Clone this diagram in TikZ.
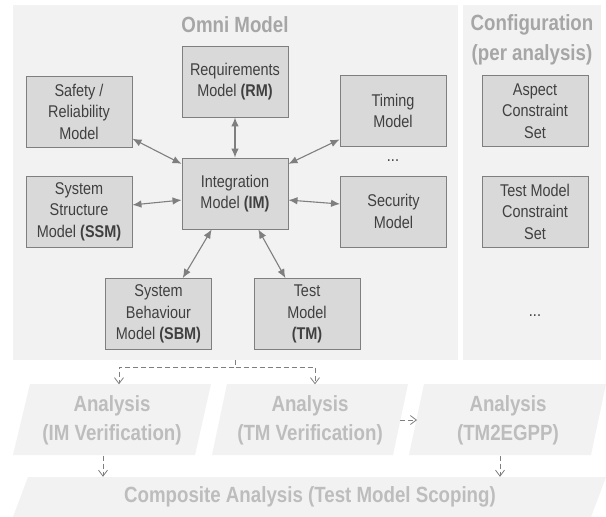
\documentclass[tikz,border=0pt]{standalone}
\usepackage{fontspec}
\setmainfont{Liberation Sans}[FakeStretch=0.85]
\usetikzlibrary{arrows.meta}
\definecolor{panel}{HTML}{F2F2F2}
\definecolor{boxfill}{HTML}{D9D9D9}
\definecolor{edge}{HTML}{7F7F7F}
\definecolor{ink}{HTML}{404040}
\definecolor{title}{HTML}{A6A6A6}
\definecolor{faded}{HTML}{BDBDBD}
\tikzset{
  panelbox/.style={fill=panel, draw=none, inner sep=0pt},
  model/.style={draw=edge, fill=boxfill, line width=0.9pt, minimum width=106pt, minimum height=71pt, inner sep=0pt, align=center, text=ink, font=\fontsize{17}{21.5}\selectfont},
  heading/.style={text=title, font=\bfseries\fontsize{22}{30}\selectfont, align=center},
  stage/.style={text=faded, font=\bfseries\fontsize{22}{29}\selectfont, align=center, minimum height=71pt, inner sep=0pt},
  slab/.style={fill=panel},
  link/.style={draw=edge, line width=1.1pt, {Latex[length=9pt,width=7.5pt]}-{Latex[length=9pt,width=7.5pt]}},
  flow/.style={draw=edge, line width=0.8pt, dash pattern=on 5pt off 3pt, -{Straight Barb[length=6pt,width=9pt]}},
}

\begin{document}
\begin{tikzpicture}[x=1pt,y=-1pt]
  \useasboundingbox (0,0) rectangle (606,517);
  \fill[white] (0,0) rectangle (606,517);

  % panels
  \node[panelbox, minimum width=445pt, minimum height=355pt] (omni) at (235.5,182.5) {};
  \node[panelbox, minimum width=138pt, minimum height=355pt] (config) at (532,182.5) {};
  \node[heading] (omnititle) at (235,25) {Omni Model};
  \node[heading] (configtitle) at (532,40) {Configuration\\(per analysis)};

  % models
  \node[model] (RM) at (235,81.5) {Requirements\\Model \textbf{(RM)}};
  \node[model] (SRM) at (79,111.5) {Safety /\\Reliability\\Model};
  \node[model] (IM) at (235,193.5) {Integration\\Model \textbf{(IM)}};
  \node[model] (SSM) at (79,211.5) {System\\Structure\\Model \textbf{(SSM)}};
  \node[model] (TiM) at (393,111) {Timing\\Model};
  \node[text=ink, font=\fontsize{17}{21.5}\selectfont] (moredots) at (393,161) {...};
  \node[model] (SecM) at (393.5,211.5) {Security\\Model};
  \node[model] (SBM) at (158.5,314) {System\\Behaviour\\Model \textbf{(SBM)}};
  \node[model] (TM) at (307,314) {Test\\Model\\\textbf{(TM)}};

  % configuration
  \node[model] (ACS) at (535,111) {Aspect\\Constraint\\Set};
  \node[model] (TMCS) at (535,211.5) {Test Model\\Constraint\\Set};
  \node[text=ink, font=\fontsize{17}{21.5}\selectfont] (cfgdots) at (535,316) {...};

  \draw[link] (RM.south) -- (IM.north);
  \draw[link] (SRM.-27) -- (IM.151);
  \draw[link] (SSM.7) -- (IM.-173);
  \draw[link] (TiM.-152) -- (IM.29);
  \draw[link] (SecM.172) -- (IM.-7);
  \draw[link] (SBM.56) -- (IM.-123);
  \draw[link] (TM.121) -- (IM.-57);

  % analyses
  \fill[slab] (13,455) -- (30,384) -- (211,384) -- (195,455) -- cycle;
  \fill[slab] (212,455) -- (227,384) -- (408,384) -- (393,455) -- cycle;
  \fill[slab] (409,455) -- (424,384) -- (606,384) -- (591,455) -- cycle;
  \fill[slab] (13,517) -- (28,477) -- (606,477) -- (591,517) -- cycle;
  \node[stage] (aIM) at (112,420) {Analysis\\(IM Verification)};
  \node[stage] (aTM) at (310,420) {Analysis\\(TM Verification)};
  \node[stage] (aEG) at (508,420) {Analysis\\(TM2EGPP)};
  \node[stage, minimum height=40pt] (comp) at (310,497) {Composite Analysis (Test Model Scoping)};

  \coordinate (fork) at (235.5,367);
  \draw[flow] (omni.south) -- (fork) -| ([xshift=7pt]aIM.north);
  \draw[flow] (fork) -| ([xshift=5pt]aTM.north);
  \draw[flow] (400,420) -- (417,420);
  \draw[flow] ([xshift=-9pt]aIM.south) -- ([xshift=-9pt]aIM.south |- comp.north);
  \draw[flow] ([xshift=-8pt]aEG.south) -- ([xshift=-8pt]aEG.south |- comp.north);
\end{tikzpicture}
\end{document}
